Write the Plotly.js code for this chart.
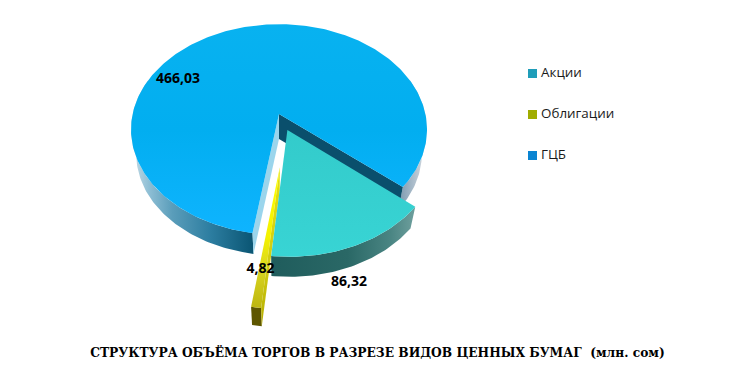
<!DOCTYPE html>
<html><head><meta charset="utf-8">
<script src="https://cdn.plot.ly/plotly-3.0.1.min.js"></script>
<style>html,body{margin:0;padding:0;background:#fff}#c{width:736px;height:385px}</style>
</head><body><div id="c"></div>
<script>
const categories = ['Акции', 'Облигации', 'ГЦБ'];
const values = [86.32, 4.82, 466.03];
const legendColors = ['#1F9DB9', '#A0AC00', '#0A84D2'];
const chartTitle = 'СТРУКТУРА ОБЪЁМА ТОРГОВ В РАЗРЕЗЕ ВИДОВ ЦЕННЫХ БУМАГ\u00A0\u00A0(млн. сом)';

// perspective view of the pie disc: the base ring sits lower and slightly smaller
const W = 736, H = 385;
const cx = 279, cy = 114, fx = 146.4, fy = 103, k = 0.147, baseScale = 0.965, baseDrop = 25, rotation = 40;
const explode = [[0.056, 0.152], [0.005, 0.48], [0, 0]];
const labelPos = [[349, 282], [260.5, 269], [178, 79]];

function proj(x, y, base) {
  const d = 1 - k * y, px = fx * x / d, py = fy * y / d;
  return base ? [cx + px * baseScale, cy + py * baseScale + baseDrop] : [cx + px, cy + py];
}
const total = values.reduce((a, b) => a + b, 0);
let cum = rotation;
const slices = values.map((v, i) => {
  const a0 = cum; cum += v / total * 360;
  return {a0, a1: cum, ox: explode[i][0], oy: explode[i][1]};
});
const rad = d => d * Math.PI / 180;
function rim(s, a, base) { return proj(s.ox + Math.cos(rad(a)), s.oy + Math.sin(rad(a)), base); }
function apex(s, base) { return proj(s.ox, s.oy, base); }
function arc(s, a0, a1, base) {
  const out = [], n = Math.max(2, Math.ceil(Math.abs(a1 - a0)));
  for (let i = 0; i <= n; i++) out.push(rim(s, a0 + (a1 - a0) * i / n, base));
  return out;
}
function poly(points, style) {
  const t = {type: 'scatter', mode: 'lines', x: points.map(p => p[0]).concat(points[0][0]),
    y: points.map(p => p[1]).concat(points[0][1]), line: {width: 0}, fill: 'toself',
    hoverinfo: 'skip', showlegend: false};
  if (style.grad) t.fillgradient = style.grad; else t.fillcolor = style.color;
  return t;
}
function topFace(s) { return [apex(s)].concat(arc(s, s.a0, s.a1)); }
function outerWall(s, a0, a1) { return arc(s, a0, a1).concat(arc(s, a1, a0, true)); }
function edgeWall(s, a) { return [apex(s), rim(s, a), rim(s, a, true), apex(s, true)]; }

const [sA, sO, sG] = slices;
const sideMain = {type: 'horizontal', start: 131, stop: 427, colorscale: [
  [0, '#C8DEE8'], [0.06, '#8FBFD5'], [0.14, '#5A9DBA'], [0.27, '#2C7DA0'], [0.41, '#0B5674'],
  [0.85, '#3A7590'], [0.92, '#8AA4B8'], [1, '#D8DEE4']]};
const traces = [
  // ГЦБ
  poly(outerWall(sG, sG.a0, 200), {grad: sideMain}),
  poly(outerWall(sG, 340, sG.a1), {grad: sideMain}),
  poly(edgeWall(sG, sG.a1), {color: '#0A4F6C'}),
  poly(edgeWall(sG, sG.a0), {color: '#9BD5EC'}),
  poly(topFace(sG), {grad: {type: 'vertical', start: 24, stop: 235, colorscale: [
    [0, '#08B2F0'], [0.5, '#02AEF0'], [1, '#0FB4FF']]}}),
  // Облигации
  poly(outerWall(sO, sO.a0, sO.a1), {color: '#5E5600'}),
  poly(edgeWall(sO, sO.a0), {grad: {type: 'vertical', start: 188, stop: 327, colorscale: [
    [0, '#E0DC10'], [0.6, '#CFCA10'], [1, '#B4AC00']]}}),
  poly(topFace(sO), {grad: {type: 'vertical', start: 165, stop: 308, colorscale: [
    [0, '#FFFF00'], [0.5, '#F4F200'], [0.72, '#DAD620'], [1, '#BDB610']]}}),
  // Акции
  poly(outerWall(sA, sA.a0, sA.a1), {grad: {type: 'horizontal', start: 269, stop: 412, colorscale: [
    [0, '#1F5C5C'], [0.55, '#2A6866'], [0.85, '#4A8583'], [1, '#6A9C9A']]}}),
  poly(topFace(sA), {grad: {type: 'vertical', start: 129, stop: 256, colorscale: [
    [0, '#33CBCB'], [1, '#38D4D4']]}}),
  // data labels
  {type: 'scatter', mode: 'text', x: labelPos.map(p => p[0]), y: labelPos.map(p => p[1]),
    text: values.map(v => v.toFixed(2).replace('.', ',')), textposition: 'middle center',
    textfont: {family: '"Open Sans", "Noto Sans", sans-serif', size: 14, color: '#000', weight: 700},
    hoverinfo: 'skip', showlegend: false},
  // legend
  {type: 'scatter', mode: 'markers', x: categories.map(() => 532.5), y: categories.map((c, i) => 73.5 + i * 41),
    marker: {symbol: 'square', size: 9, color: legendColors}, hoverinfo: 'skip', showlegend: false},
  {type: 'scatter', mode: 'text', x: categories.map(() => 541), y: categories.map((c, i) => 73.5 + i * 41),
    text: categories, textposition: 'middle right',
    textfont: {family: '"Open Sans", "Noto Sans", sans-serif', size: 13.4, color: '#1a1a1a'},
    hoverinfo: 'skip', showlegend: false}
];
Plotly.newPlot('c', traces, {
  width: W, height: H, margin: {l: 0, r: 0, t: 0, b: 0}, showlegend: false,
  paper_bgcolor: '#fff', plot_bgcolor: '#fff',
  xaxis: {range: [0, W], visible: false, fixedrange: true},
  yaxis: {range: [H, 0], visible: false, fixedrange: true},
  title: {text: chartTitle, x: 377.5 / W, xanchor: 'center', y: 1 - 353 / H, yanchor: 'middle',
    font: {family: '"DejaVu Serif", "Liberation Serif", serif', size: 12.25, color: '#000', weight: 700}}
}, {displayModeBar: false, staticPlot: true});
</script></body></html>
